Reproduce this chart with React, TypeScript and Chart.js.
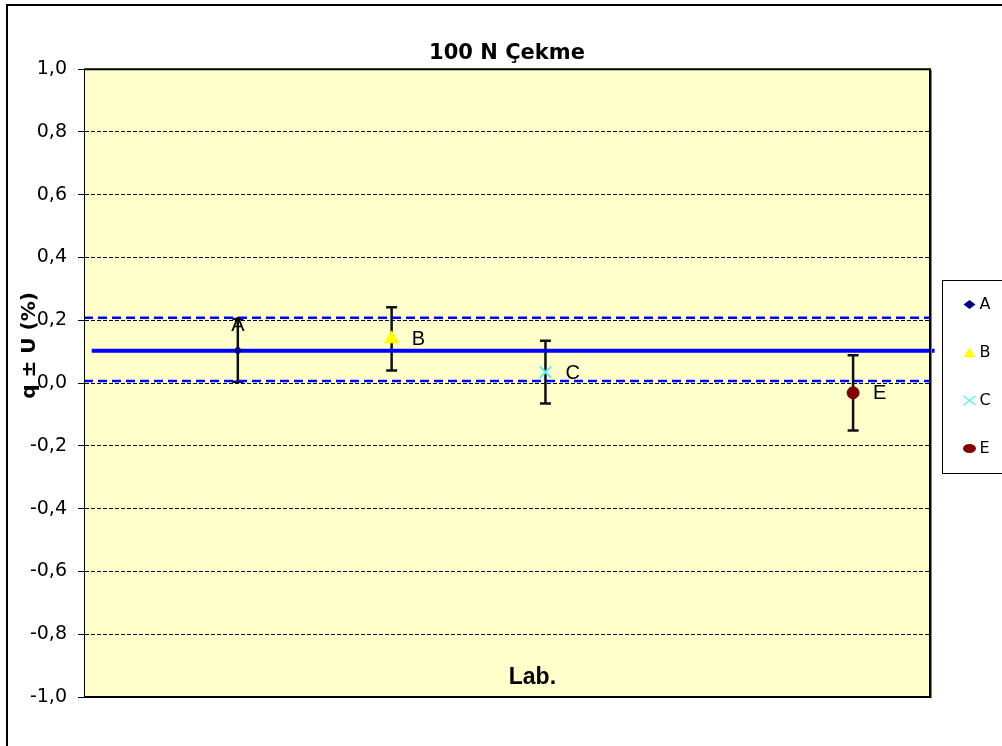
import React, { useEffect, useRef } from 'react';
import { Chart, registerables } from 'chart.js';

Chart.register(...registerables);

// Texts
const chartTitle = '100 N Çekme';
const yAxisTitle = 'q ± U (%)';
const xAxisTitle = 'Lab.';

// Laboratory results: position on the (hidden) x axis, value q and uncertainty U
const labNames = ['A', 'B', 'C', 'E'];
const labPositions = [1, 2, 3, 5];
const labValues = [0.104, 0.141, 0.035, -0.031];
const labUncertainty = [0.1, 0.101, 0.1, 0.12];

// Reference value and its uncertainty band
const refValue = 0.103;
const refUpper = 0.208;
const refLower = 0.007;
const refLineX = [0.05, 5.53];
const bandLineX = [0, 5.5];

// Axes
const xRange = [0, 5.5];
const yRange = [-1, 1];
const yStep = 0.2;
const yTickLabels = ['-1,0', '-0,8', '-0,6', '-0,4', '-0,2', '0,0', '0,2', '0,4', '0,6', '0,8', '1,0'];

// Marker styles per laboratory
const labStyles = [
  { pointStyle: 'rectRot', color: '#000080', radius: 4, borderWidth: 1 },
  { pointStyle: 'triangle', color: '#FFFF00', radius: 8, borderWidth: 1 },
  { pointStyle: 'crossRot', color: '#5CF0F0', radius: 8, borderWidth: 2 },
  { pointStyle: 'circle', color: '#800000', radius: 6, borderWidth: 1 },
];
const labLabelPlacement = ['above', 'right', 'right', 'right'];

const plotFill = '#FFFFCC';

function drawLegendMarker(ctx: CanvasRenderingContext2D, style: any, cx: number, cy: number) {
  ctx.save();
  ctx.fillStyle = style.color;
  ctx.strokeStyle = style.color;
  ctx.beginPath();
  switch (style.pointStyle) {
    case 'rectRot':
      ctx.moveTo(cx - 6, cy);
      ctx.lineTo(cx, cy - 4.5);
      ctx.lineTo(cx + 6, cy);
      ctx.lineTo(cx, cy + 4.5);
      ctx.closePath();
      ctx.fill();
      break;
    case 'triangle':
      ctx.moveTo(cx, cy - 5);
      ctx.lineTo(cx + 6, cy + 4.5);
      ctx.lineTo(cx - 6, cy + 4.5);
      ctx.closePath();
      ctx.fill();
      break;
    case 'crossRot':
      ctx.lineWidth = 1.5;
      ctx.moveTo(cx - 6, cy - 4.5);
      ctx.lineTo(cx + 6, cy + 4.5);
      ctx.moveTo(cx + 6, cy - 4.5);
      ctx.lineTo(cx - 6, cy + 4.5);
      ctx.stroke();
      break;
    default:
      ctx.ellipse(cx, cy, 6.5, 4.5, 0, 0, Math.PI * 2);
      ctx.fill();
  }
  ctx.restore();
}

// Yellow plot background and the frame around it
const plotFramePlugin = {
  id: 'plotFrame',
  beforeDraw(chart: any) {
    const { ctx, chartArea: a } = chart;
    ctx.save();
    ctx.fillStyle = plotFill;
    ctx.fillRect(a.left, a.top, a.right - a.left, a.bottom - a.top);
    ctx.restore();
  },
  afterDraw(chart: any) {
    const { ctx, chartArea: a } = chart;
    ctx.save();
    ctx.strokeStyle = '#000';
    ctx.lineWidth = 2;
    ctx.beginPath();
    ctx.moveTo(a.left, a.top);
    ctx.lineTo(a.right, a.top);
    ctx.lineTo(a.right, a.bottom);
    ctx.lineTo(a.left, a.bottom);
    ctx.stroke();
    ctx.lineWidth = 1;
    ctx.beginPath();
    ctx.moveTo(a.left + 0.5, a.top);
    ctx.lineTo(a.left + 0.5, a.bottom);
    ctx.stroke();
    ctx.strokeStyle = '#808080';
    ctx.beginPath();
    ctx.moveTo(a.right + 1.5, a.top + 1);
    ctx.lineTo(a.right + 1.5, a.bottom + 1.5);
    ctx.stroke();
    ctx.restore();
  },
};

// Vertical q ± U bars with end caps
const errorBarsPlugin = {
  id: 'errorBars',
  beforeDatasetsDraw(chart: any) {
    const { ctx, scales } = chart;
    ctx.save();
    ctx.strokeStyle = '#111';
    ctx.lineWidth = 2.5;
    labNames.forEach((_, i) => {
      const px = scales.x.getPixelForValue(labPositions[i]);
      const yTop = scales.y.getPixelForValue(labValues[i] + labUncertainty[i]);
      const yBot = scales.y.getPixelForValue(labValues[i] - labUncertainty[i]);
      ctx.beginPath();
      ctx.moveTo(px, yTop);
      ctx.lineTo(px, yBot);
      ctx.moveTo(px - 5.5, yTop);
      ctx.lineTo(px + 5.5, yTop);
      ctx.moveTo(px - 5.5, yBot);
      ctx.lineTo(px + 5.5, yBot);
      ctx.stroke();
    });
    ctx.restore();
  },
};

// Point names, axis titles
const annotationsPlugin = {
  id: 'annotations',
  afterDatasetsDraw(chart: any) {
    const { ctx, chartArea: a } = chart;
    ctx.save();
    ctx.fillStyle = '#000';
    ctx.font = '20px "Liberation Sans", Arial, sans-serif';
    labNames.forEach((name, i) => {
      const meta = chart.getDatasetMeta(i);
      const pt = meta.data[0];
      if (!pt) return;
      if (labLabelPlacement[i] === 'above') {
        ctx.textAlign = 'center';
        ctx.textBaseline = 'middle';
        ctx.fillText(name, pt.x, pt.y - 25);
      } else {
        ctx.textAlign = 'left';
        ctx.textBaseline = 'middle';
        ctx.fillText(name, pt.x + 20, pt.y + 1);
      }
    });

    ctx.font = 'bold 23px "Liberation Sans", Arial, sans-serif';
    ctx.textAlign = 'center';
    ctx.textBaseline = 'alphabetic';
    ctx.fillText(xAxisTitle, a.left + 0.53 * (a.right - a.left), a.bottom - 13);

    ctx.translate(22, a.top + 0.44 * (a.bottom - a.top));
    ctx.rotate(-Math.PI / 2);
    ctx.font = 'bold 20px "DejaVu Sans", sans-serif';
    ctx.textAlign = 'center';
    ctx.textBaseline = 'middle';
    ctx.fillText(yAxisTitle, 0, 0);
    ctx.restore();
  },
};

// Boxed legend at the right of the plot
const legendBoxPlugin = {
  id: 'legendBox',
  afterDraw(chart: any) {
    const { ctx, chartArea: a, height } = chart;
    const rowH = 48;
    const boxH = rowH * labNames.length + 1;
    const left = Math.round(a.right + 12) + 0.5;
    const top = Math.round(height / 2 - boxH / 2) + 0.5;
    ctx.save();
    ctx.strokeStyle = '#000';
    ctx.lineWidth = 1;
    ctx.strokeRect(left, top, 200, boxH);
    ctx.font = '16px "DejaVu Sans", sans-serif';
    ctx.fillStyle = '#000';
    ctx.textAlign = 'left';
    ctx.textBaseline = 'middle';
    labNames.forEach((name, i) => {
      const cy = top + 24 + i * rowH;
      drawLegendMarker(ctx, labStyles[i], left + 27, cy);
      ctx.fillText(name, left + 37, cy);
    });
    ctx.restore();
  },
};

export default function App() {
  const canvasRef = useRef<HTMLCanvasElement | null>(null);

  useEffect(() => {
    if (!canvasRef.current) return;

    const labDatasets = labNames.map((name, i) => ({
      label: name,
      data: [{ x: labPositions[i], y: labValues[i] }],
      pointStyle: labStyles[i].pointStyle,
      pointRadius: labStyles[i].radius,
      backgroundColor: labStyles[i].color,
      borderColor: labStyles[i].color,
      pointBorderWidth: labStyles[i].borderWidth,
      showLine: false,
      order: 0,
    }));

    const refDatasets = [
      {
        label: 'ref',
        data: [
          { x: refLineX[0], y: refValue },
          { x: refLineX[1], y: refValue },
        ],
        borderColor: '#0000FF',
        borderWidth: 4,
        pointRadius: 0,
        showLine: true,
        clip: false,
        order: 1,
      },
      {
        label: 'ref+U',
        data: [
          { x: bandLineX[0], y: refUpper },
          { x: bandLineX[1], y: refUpper },
        ],
        borderColor: '#0000FF',
        borderWidth: 2.5,
        borderDash: [9, 5],
        pointRadius: 0,
        showLine: true,
        order: 1,
      },
      {
        label: 'ref-U',
        data: [
          { x: bandLineX[0], y: refLower },
          { x: bandLineX[1], y: refLower },
        ],
        borderColor: '#0000FF',
        borderWidth: 2.5,
        borderDash: [9, 5],
        pointRadius: 0,
        showLine: true,
        order: 1,
      },
    ];

    const chart = new Chart(canvasRef.current, {
      type: 'scatter',
      data: { datasets: [...labDatasets, ...refDatasets] as any },
      options: {
        responsive: false,
        animation: false,
        devicePixelRatio: 1,
        layout: { padding: { left: 0, right: 86, top: 0, bottom: 50 } },
        plugins: {
          legend: { display: false },
          tooltip: { enabled: false },
          title: {
            display: true,
            text: chartTitle,
            fullSize: false,
            color: '#000',
            font: { family: '"DejaVu Sans", sans-serif', size: 21, weight: 'bold' },
            padding: { top: 35, bottom: 3 },
          },
        },
        scales: {
          x: {
            type: 'linear',
            min: xRange[0],
            max: xRange[1],
            display: false,
          },
          y: {
            type: 'linear',
            min: yRange[0],
            max: yRange[1],
            afterFit: (scale: any) => {
              scale.width = 76;
            },
            ticks: {
              stepSize: yStep,
              color: '#000',
              padding: 11,
              font: { family: '"DejaVu Sans", sans-serif', size: 19 },
              callback: (value: any, index: number) =>
                yTickLabels[index] ?? String(value).replace('.', ','),
            },
            grid: {
              color: '#000',
              lineWidth: 1,
              drawTicks: true,
              tickLength: 6,
              tickColor: '#000',
              tickWidth: 1,
              tickBorderDash: [],
            },
            border: { display: true, color: '#000', width: 1, dash: [4, 2] },
          },
        },
      } as any,
      plugins: [plotFramePlugin, errorBarsPlugin, annotationsPlugin, legendBoxPlugin],
    });

    return () => chart.destroy();
  }, []);

  return (
    <div
      style={{
        position: 'fixed',
        left: 0,
        top: 0,
        width: 1002,
        height: 746,
        overflow: 'hidden',
        background: '#fff',
      }}
    >
      <div
        style={{
          position: 'absolute',
          left: 6,
          top: 4,
          width: 1040,
          height: 790,
          border: '2px solid #000',
          boxSizing: 'border-box',
        }}
      >
        <canvas
          ref={canvasRef}
          width={1008}
          height={741}
          style={{ position: 'absolute', left: 0, top: 0, display: 'block' }}
        />
      </div>
    </div>
  );
}
